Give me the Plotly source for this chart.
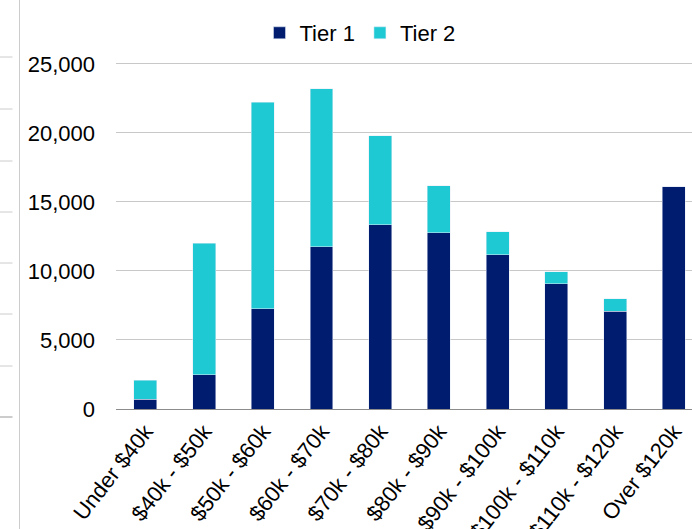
import plotly.graph_objects as go

categories = ["Under $40k", "$40k - $50k", "$50k - $60k", "$60k - $70k", "$70k - $80k",
              "$80k - $90k", "$90k - $100k", "$100k - $110k", "$110k - $120k", "Over $120k"]
tier1 = [720, 2490, 7250, 11760, 13350, 12750, 11180, 9080, 7080, 16110]
tier2 = [1350, 9520, 14950, 11430, 6430, 3430, 1670, 850, 910, 0]
y_ticks = [0, 5000, 10000, 15000, 20000, 25000]
y_tick_labels = ["0", "5,000", "10,000", "15,000", "20,000", "25,000"]

FONT = "Liberation Sans, Arial, sans-serif"
NAVY = "#001C6E"
CYAN = "#1FC9D4"

fig = go.Figure()
fig.add_trace(go.Bar(x=categories, y=tier1, name="Tier 1", marker_color=NAVY))
fig.add_trace(go.Bar(x=categories, y=tier2, name="Tier 2", marker_color=CYAN))

W, H = 692, 529
L, R, T, B = 116, 0, 50, 120
pw, ph = W - L - R, H - T - B

def px_x(x):
    return (x - L) / pw

def px_y(y):
    return (H - B - y) / ph

shapes = []
# decorations from the neighbouring (cropped) chart on the left edge
shapes.append(dict(type="line", xref="paper", yref="paper",
                   x0=px_x(19.5), x1=px_x(19.5), y0=px_y(0), y1=px_y(H),
                   line=dict(color="#cccccc", width=1)))
for yy in [57, 109, 161, 212, 263, 314, 366]:
    shapes.append(dict(type="line", xref="paper", yref="paper",
                       x0=px_x(0), x1=px_x(12.5), y0=px_y(yy), y1=px_y(yy),
                       line=dict(color="#cccccc", width=1)))
shapes.append(dict(type="line", xref="paper", yref="paper",
                   x0=px_x(0), x1=px_x(12.5), y0=px_y(417), y1=px_y(417),
                   line=dict(color="#999999", width=1)))

fig.update_layout(
    width=W, height=H,
    margin=dict(l=L, r=R, t=T, b=B, autoexpand=False),
    barmode="stack",
    bargap=0.61,
    plot_bgcolor="white",
    paper_bgcolor="white",
    font=dict(family=FONT, size=22, color="#000000"),
    legend=dict(orientation="h", x=px_x(360), xanchor="center",
                y=px_y(33), yanchor="middle", traceorder="normal",
                font=dict(size=22), bgcolor="rgba(0,0,0,0)"),
    xaxis=dict(range=[-0.5, 9.31], tickangle=-52, automargin=False,
               showline=True, linecolor="#8c8c8c", linewidth=1,
               showgrid=False, ticks="", tickfont=dict(size=22)),
    yaxis=dict(range=[0, 26000], tickvals=y_ticks, ticktext=y_tick_labels,
               automargin=False, showgrid=True, gridcolor="#c8c8c8", gridwidth=1,
               zeroline=False, showline=False, ticks="",
               ticklabelstandoff=20, tickfont=dict(size=22)),
    shapes=shapes,
)

fig.write_html("out.html")
